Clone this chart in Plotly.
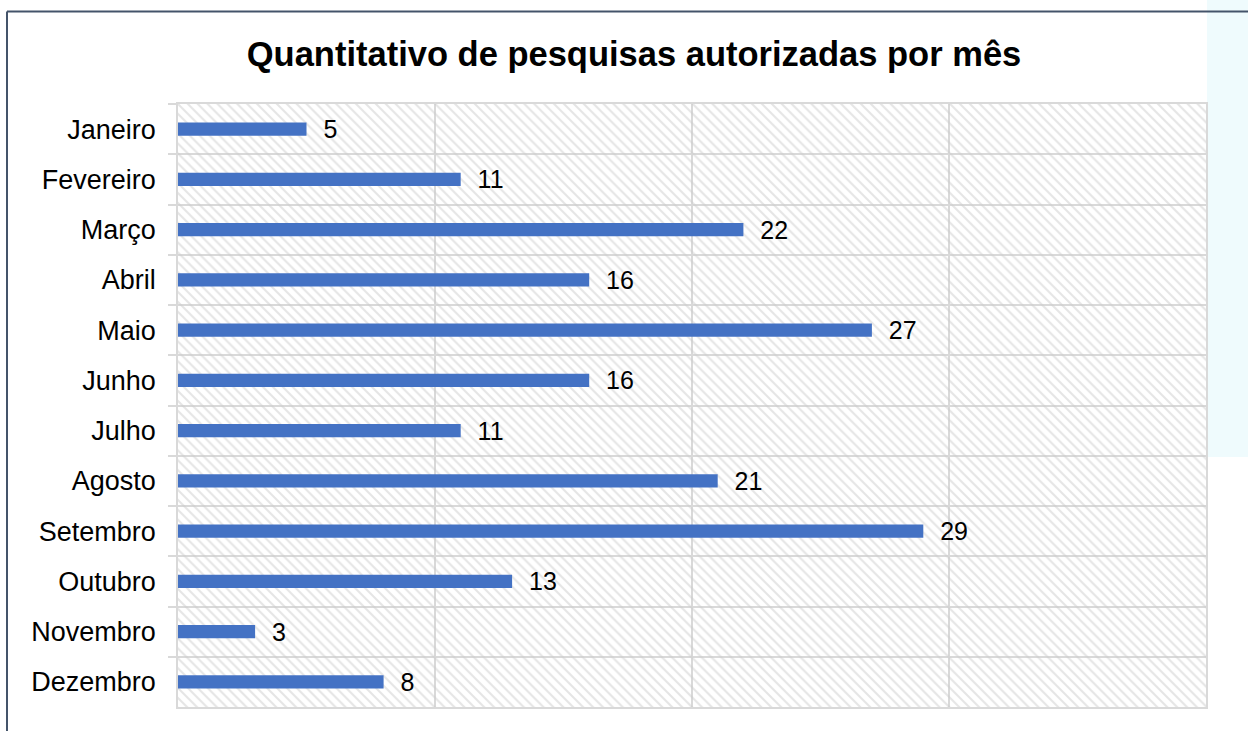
import plotly.graph_objects as go

months = ["Janeiro", "Fevereiro", "Março", "Abril", "Maio", "Junho",
          "Julho", "Agosto", "Setembro", "Outubro", "Novembro", "Dezembro"]
values = [5, 11, 22, 16, 27, 16, 11, 21, 29, 13, 3, 8]
x_max = 40
x_ticks = [0, 10, 20, 30, 40]
title = "Quantitativo de pesquisas autorizadas por mês"

FONT = "Liberation Sans, Arial, sans-serif"
W, H = 1248, 731
L, R, T, B = 178, 42, 104, 24
PW, PH = W - L - R, H - T - B


def px(x):
    return (x - L) / PW


def py(y):
    return 1 - (y - T) / PH


fig = go.Figure()

# hatched plot-area background (transparent so gridlines show through)
fig.add_trace(go.Bar(
    y=months, x=[x_max] * len(months), orientation="h", width=1,
    marker=dict(color="rgba(255,255,255,0)", line=dict(width=0),
                pattern=dict(shape="\\", fgcolor="#cbcbcb", fillmode="overlay",
                             size=7, solidity=0.3)),
    hoverinfo="skip", showlegend=False,
))

fig.add_trace(go.Bar(
    y=months, x=values, orientation="h", width=0.26,
    marker=dict(color="#4472C4", line=dict(width=0)),
    text=values, texttemplate="  %{x}", textposition="outside",
    constraintext="none",
    textfont=dict(family=FONT, size=25, color="#000000"),
    cliponaxis=False, showlegend=False,
))

fig.update_layout(
    width=W, height=H,
    margin=dict(l=L, r=R, t=T, b=B),
    paper_bgcolor="white", plot_bgcolor="white",
    barmode="overlay",
    title=dict(text="<b>" + title + "</b>", x=634 / W, xanchor="center",
               y=1 - 54 / H, yanchor="middle",
               font=dict(family=FONT, size=34.5, color="#000000")),
    xaxis=dict(range=[0, x_max], tickvals=x_ticks, showticklabels=False,
               showgrid=True, gridcolor="#d9d9d9", gridwidth=1.5,
               zeroline=False, showline=True, linecolor="#d9d9d9",
               linewidth=1.5, mirror=True, fixedrange=True),
    yaxis=dict(autorange="reversed", type="category",
               tickson="boundaries", ticks="outside", ticklen=8,
               tickcolor="#d9d9d9", tickwidth=1.5,
               showgrid=True, gridcolor="#d9d9d9", gridwidth=1.5,
               showline=True, linecolor="#d9d9d9", linewidth=1.5, mirror=True,
               tickfont=dict(family=FONT, size=27, color="#000000"),
               ticklabelstandoff=15),
    shapes=[
        dict(type="rect", xref="paper", yref="paper", x0=px(1207), x1=px(1260),
             y0=py(457), y1=py(-5), fillcolor="#EFFBFD", line=dict(width=0),
             layer="below"),
        dict(type="line", xref="paper", yref="paper", x0=px(7), x1=px(7),
             y0=py(760), y1=py(11.5), line=dict(color="#44546A", width=2)),
        dict(type="line", xref="paper", yref="paper", x0=px(7), x1=px(1260),
             y0=py(11.5), y1=py(11.5), line=dict(color="#44546A", width=2)),
    ],
)

fig.write_html("out.html",
               config={"displayModeBar": False},
               post_script="document.body.style.margin='0';"
                           "document.body.style.overflow='hidden';")
